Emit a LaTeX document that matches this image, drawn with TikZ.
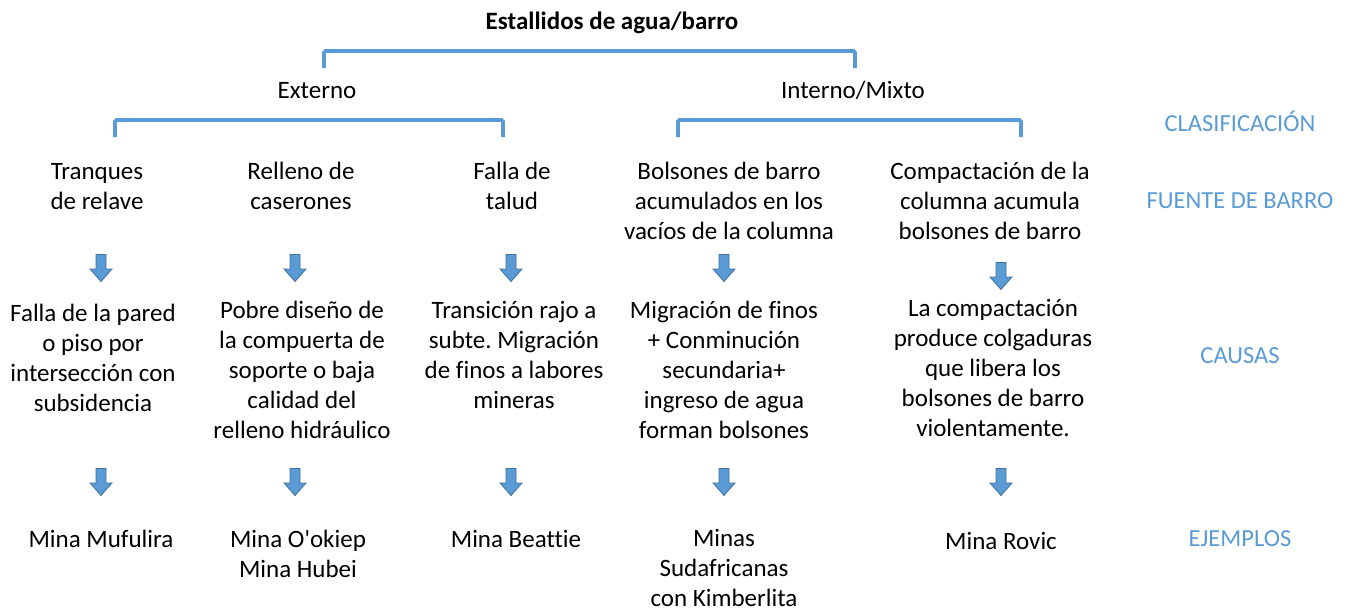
\documentclass[tikz,border=0pt]{standalone}
\usepackage{fontspec}
\setmainfont{Carlito}[Ligatures={NoCommon}]
\frenchspacing
\definecolor{bl}{HTML}{5B9BD5}
\definecolor{bld}{HTML}{41719C}
\begin{document}
\begin{tikzpicture}[x=1pt,y=-1pt,
  txt/.style={align=center,font=\fontsize{25}{30}\selectfont,inner sep=0pt,anchor=base},
  lbl/.style={font=\fontsize{24.5}{28}\selectfont,text=bl,inner sep=0pt,anchor=base},
  brk/.style={draw=bl,line width=3.6pt,rounded corners=1.5pt},
  darr/.pic={\draw[fill=bl,draw=bld,line width=0.8pt,line join=miter]
     (-5,-13.5) -- (5,-13.5) -- (5,1) -- (11,1) -- (0,13.5) -- (-11,1) -- (-5,1) -- cycle;}]
\useasboundingbox (0,0) rectangle (1353,611);
% title and level 1
\node[txt,font=\fontsize{25}{30}\selectfont\bfseries] (title) at (612,29) {Estallidos de agua/barro};
\node[txt] (ext) at (317,98) {Externo};
\node[txt] (int) at (853,98) {Interno/Mixto};
\coordinate (tL) at (324,68); \coordinate (tR) at (855,68);
\draw[brk] (tL) -- ++(0,-17) -| (tR);
\coordinate (eL) at (115,137); \coordinate (eR) at (503,137);
\draw[brk] (eL) -- ++(0,-17) -| (eR);
\coordinate (iL) at (678,137); \coordinate (iR) at (1021,137);
\draw[brk] (iL) -- ++(0,-17) -| (iR);
% right labels
\node[lbl] (lclas) at (1240,131) {CLASIFICACIÓN};
\node[lbl] (lfuente) at (1240,208) {FUENTE DE BARRO};
\node[lbl] (lcausas) at (1240,363) {CAUSAS};
\node[lbl] (lejem) at (1240,546) {EJEMPLOS};
% column 1
\node[txt] (f1) at (97,209) {Tranques\\de relave};
\pic (a11) at (101,268) {darr};
\node[txt] (c1) at (93,411) {Falla de la pared\\o piso por\\intersección con\\subsidencia};
\pic (a12) at (101,482) {darr};
\node[txt] (e1) at (101,547) {Mina Mufulira};
% column 2
\node[txt] (f2) at (301,209) {Relleno de\\caserones};
\pic (a21) at (295,268) {darr};
\node[txt] (c2) at (302,438) {Pobre diseño de\\la compuerta de\\soporte o baja\\calidad del\\relleno hidráulico};
\pic (a22) at (295,482) {darr};
\node[txt] (e2) at (298,577) {Mina O\textquotesingle okiep\\Mina Hubei};
% column 3
\node[txt] (f3) at (512,209) {Falla de\\talud};
\pic (a31) at (511,268) {darr};
\node[txt] (c3) at (514,408) {Transición rajo a\\subte. Migración\\de finos a labores\\mineras};
\pic (a32) at (511,482) {darr};
\node[txt] (e3) at (516,547) {Mina Beattie};
% column 4
\node[txt] (f4) at (729,239) {Bolsones de barro\\acumulados en los\\vacíos de la columna};
\pic (a41) at (724,268) {darr};
\node[txt] (c4) at (724,438) {Migración de finos\\+ Conminución\\secundaria+\\ingreso de agua\\forman bolsones};
\pic (a42) at (724,482) {darr};
\node[txt] (e4) at (724,606) {Minas\\Sudafricanas\\con Kimberlita};
% column 5
\node[txt] (f5) at (990,239) {Compactación de la\\columna acumula\\bolsones de barro};
\pic (a51) at (1001,276) {darr};
\node[txt] (c5) at (993,436) {La compactación\\produce colgaduras\\que libera los\\bolsones de barro\\violentamente.};
\pic (a52) at (1001,482) {darr};
\node[txt] (e5) at (1001,549) {Mina Rovic};
\end{tikzpicture}
\end{document}
